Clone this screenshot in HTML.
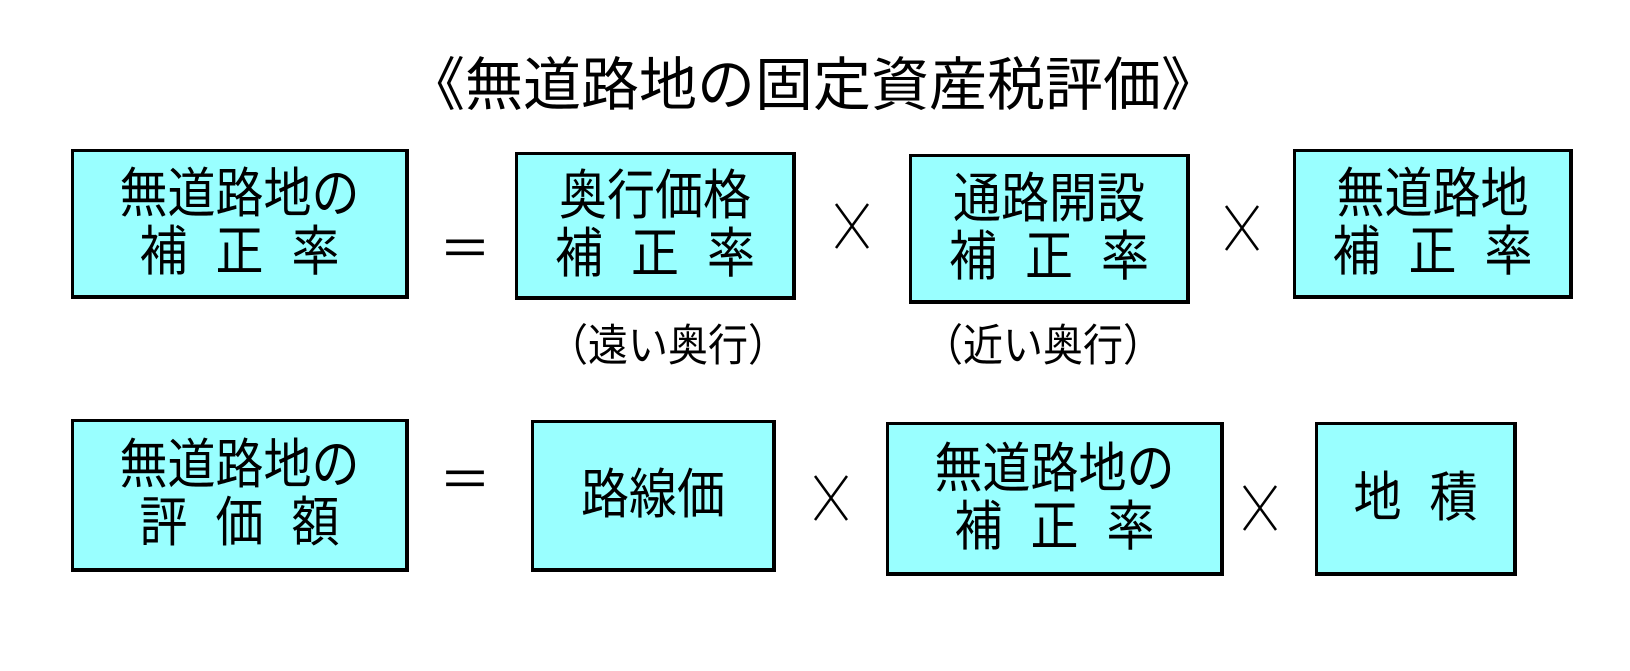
<!DOCTYPE html>
<html><head><meta charset="utf-8"><style>
body{margin:0;width:1630px;height:671px;background:#fff;position:relative;overflow:hidden;font-family:"Liberation Sans","Noto Sans CJK JP",sans-serif;color:#000}
.b{position:absolute;box-sizing:border-box;background:#99ffff;border:3px solid #000;border-right-width:4px;border-bottom-width:4px;display:flex;flex-direction:column;justify-content:center;align-items:center;font-size:48px;line-height:58px}
.b div{transform:scaleY(1.12)}
.g{display:inline-block;width:28px}
.t{position:absolute;font-size:46px;transform:translate(-50%,-50%);white-space:nowrap}
.s{position:absolute;font-size:40px;transform:translate(-50%,-50%) scaleY(1.1);white-space:nowrap}
svg.x{position:absolute}
</style></head><body>
<div class="t" style="left:813px;top:80px;font-size:58px">《無道路地の固定資産税評価》</div>
<div class="b" style="left:71px;top:149px;width:338px;height:150px"><div>無道路地の</div><div>補<span class="g"></span>正<span class="g"></span>率</div></div>
<div class="b" style="left:515px;top:152px;width:281px;height:148px"><div>奥行価格</div><div>補<span class="g"></span>正<span class="g"></span>率</div></div>
<div class="b" style="left:909px;top:154px;width:281px;height:150px"><div>通路開設</div><div>補<span class="g"></span>正<span class="g"></span>率</div></div>
<div class="b" style="left:1293px;top:149px;width:280px;height:150px"><div>無道路地</div><div>補<span class="g"></span>正<span class="g"></span>率</div></div>
<div class="t" style="left:465px;top:245px;font-size:52px">＝</div>
<svg class="x" style="left:834px;top:202px" width="36" height="48"><path d="M2 2L34 46M34 2L2 46" stroke="#000" stroke-width="2.5"/></svg>
<svg class="x" style="left:1224px;top:204px" width="36" height="48"><path d="M2 2L34 46M34 2L2 46" stroke="#000" stroke-width="2.5"/></svg>
<div class="s" style="left:668px;top:342px">（遠い奥行）</div>
<div class="s" style="left:1043px;top:342px">（近い奥行）</div>
<div class="b" style="left:71px;top:419px;width:338px;height:153px"><div>無道路地の</div><div>評<span class="g"></span>価<span class="g"></span>額</div></div>
<div class="b" style="left:531px;top:420px;width:245px;height:152px"><div>路線価</div></div>
<div class="b" style="left:886px;top:422px;width:338px;height:154px"><div>無道路地の</div><div>補<span class="g"></span>正<span class="g"></span>率</div></div>
<div class="b" style="left:1315px;top:422px;width:202px;height:154px"><div>地<span class="g"></span>積</div></div>
<div class="t" style="left:465px;top:476px;font-size:52px">＝</div>
<svg class="x" style="left:813px;top:474px" width="36" height="48"><path d="M2 2L34 46M34 2L2 46" stroke="#000" stroke-width="2.5"/></svg>
<svg class="x" style="left:1242px;top:484px" width="36" height="48"><path d="M2 2L34 46M34 2L2 46" stroke="#000" stroke-width="2.5"/></svg>
</body></html>
